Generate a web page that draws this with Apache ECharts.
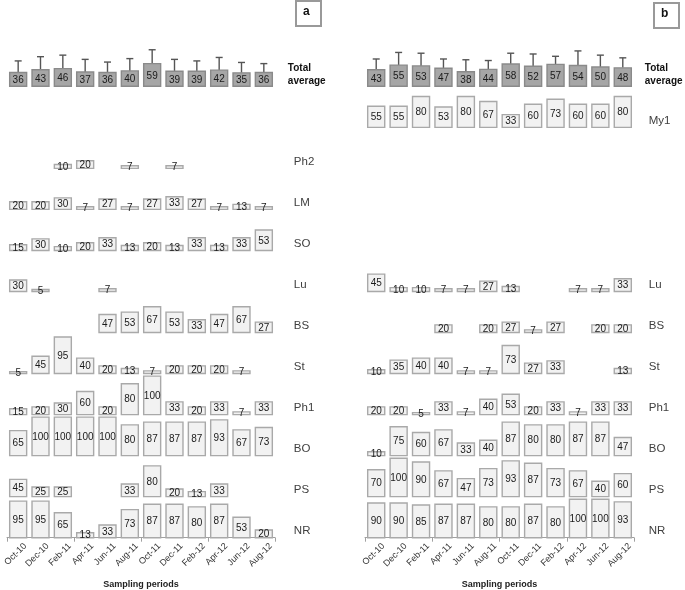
<!DOCTYPE html>
<html>
<head>
<meta charset="utf-8">
<script src="https://cdn.jsdelivr.net/npm/echarts@6/dist/echarts.min.js"></script>
<style>html,body{margin:0;padding:0;background:#fff}#c{width:685px;height:590px}</style>
</head>
<body>
<div id="c"></div>
<script>
// ---- data ----
const months = ['Oct-10','Dec-10','Feb-11','Apr-11','Jun-11','Aug-11','Oct-11','Dec-11','Feb-12','Apr-12','Jun-12','Aug-12'];
// row order from bottom to top
const rowNames = ['NR','PS','BO','Ph1','St','BS','Lu','SO','LM','Ph2','My1','Total average'];

// panel a
const aTotal    = [36,43,46,37,36,40,59,39,39,42,35,36];
const aTotalErr = [30,34,35,33,27,32,36,31,27,33,27,23];
const aPh2 = [null,null,10,20,null,7,null,7,null,null,null,null];
const aLM  = [20,20,30,7,27,7,27,33,27,7,13,7];
const aSO  = [15,30,10,20,33,13,20,13,33,13,33,53];
const aLu  = [30,5,null,null,7,null,null,null,null,null,null,null];
const aBS  = [null,null,null,null,47,53,67,53,33,47,67,27];
const aSt  = [5,45,95,40,20,13,7,20,20,20,7,null];
const aPh1 = [15,20,30,60,20,80,100,33,20,33,7,33];
const aBO  = [65,100,100,100,100,80,87,87,87,93,67,73];
const aPS  = [45,25,25,null,null,33,80,20,13,33,null,null];
const aNR  = [95,95,65,13,33,73,87,87,80,87,53,20];

// panel b
const bTotal    = [43,55,53,47,38,44,58,52,57,54,50,48];
const bTotalErr = [28,33,33,24,31,23,28,32,21,38,31,26];
const bMy1 = [55,55,80,53,80,67,33,60,73,60,60,80];
const bLu  = [45,10,10,7,7,27,13,null,null,7,7,33];
const bBS  = [null,null,null,20,null,20,27,7,27,null,20,20];
const bSt  = [10,35,40,40,7,7,73,27,33,null,null,13];
const bPh1 = [20,20,5,33,7,40,53,20,33,7,33,33];
const bBO  = [10,75,60,67,33,40,87,80,80,87,87,47];
const bPS  = [70,100,90,67,47,73,93,87,73,67,40,60];
const bNR  = [90,90,85,87,87,80,80,87,80,100,100,93];

const panelARows = {NR:aNR, PS:aPS, BO:aBO, Ph1:aPh1, St:aSt, BS:aBS, Lu:aLu, SO:aSO, LM:aLM, Ph2:aPh2};
const panelBRows = {NR:bNR, PS:bPS, BO:bBO, Ph1:bPh1, St:bSt, BS:bBS, Lu:bLu, My1:bMy1};

// ---- build ----
const ROW = 106.65; // value units between row baselines
const FONT = 'Liberation Sans, Arial, sans-serif';

function rowData(rows){
  const out = [];
  Object.keys(rows).forEach(name => {
    const r = rowNames.indexOf(name);
    rows[name].forEach((v,i) => { if (v !== null) out.push([i, r, v]); });
  });
  return out;
}
function totalData(vals, errs){
  return vals.map((v,i) => [i, 11, v, errs[i]]);
}

function renderBar(params, api){
  const c = api.value(0), r = api.value(1), v = api.value(2);
  const base = api.coord([c, r*ROW]);
  const top = api.coord([c, r*ROW + v]);
  const w = api.size([1,0])[0]*0.76;
  return {type:'group', children:[
    {type:'rect', shape:{x: base[0]-w/2, y: top[1], width: w, height: base[1]-top[1]},
     style:{fill:'#f2f2f2', stroke:'#a9a9a9', lineWidth:1.4}},
    {type:'text', style:{text:String(v), x: base[0], y:(base[1]+top[1])/2+0.5, align:'center', verticalAlign:'middle',
     font:'10px '+FONT, fill:'#1a1a1a'}}
  ]};
}
function renderTotal(params, api){
  const c = api.value(0), r = api.value(1), v = api.value(2), e = api.value(3);
  const base = api.coord([c, r*ROW]);
  const top = api.coord([c, r*ROW + v]);
  const etop = api.coord([c, r*ROW + v + e]);
  const w = api.size([1,0])[0]*0.76;
  return {type:'group', children:[
    {type:'line', shape:{x1: base[0], y1: top[1], x2: base[0], y2: etop[1]}, style:{stroke:'#555', lineWidth:1.4}},
    {type:'line', shape:{x1: base[0]-3.5, y1: etop[1], x2: base[0]+3.5, y2: etop[1]}, style:{stroke:'#555', lineWidth:1.4}},
    {type:'rect', shape:{x: base[0]-w/2, y: top[1], width: w, height: base[1]-top[1]},
     style:{fill:'#a6a6a6', stroke:'#8a8a8a', lineWidth:1.4}},
    {type:'text', style:{text:String(v), x: base[0], y:(base[1]+top[1])/2+1, align:'center', verticalAlign:'middle',
     font:'10px '+FONT, fill:'#1a1a1a'}}
  ]};
}
function makeLabelRenderer(offset, totOffset){
  return function(params, api){
    const r = api.value(0);
    const name = rowNames[r];
    const p = api.coord([11, r*ROW]);
    if (name === 'Total average') {
      return {type:'text', style:{text:'Total\naverage', x: p[0] + totOffset, y: p[1]-12, align:'left', verticalAlign:'middle',
        font:'bold 10px '+FONT, fill:'#111', lineHeight:13}};
    }
    return {type:'text', style:{text:name, x: p[0] + offset, y: p[1]-7, align:'left', verticalAlign:'middle',
      font:'11.5px '+FONT, fill:'#404040'}};
  };
}
// rotated month labels under the axis
function renderMonth(params, api){
  const i = api.value(0);
  const p = api.coord([i, 0]);
  return {type:'text', x: p[0] + 7, y: p[1] + 7, rotation: Math.PI/4,
    style:{text: months[i], x:0, y:0, align:'right', verticalAlign:'middle', font:'9px '+FONT, fill:'#333'}};
}

const rowsA = ['NR','PS','BO','Ph1','St','BS','Lu','SO','LM','Ph2','Total average'].map(n => [rowNames.indexOf(n)]);
const rowsB = ['NR','PS','BO','Ph1','St','BS','Lu','My1','Total average'].map(n => [rowNames.indexOf(n)]);
const monthIdx = months.map((m,i) => [i]);

function xAxis(idx){
  return {type:'category', gridIndex: idx, data: months, boundaryGap:true,
    axisLine:{lineStyle:{color:'#a0a0a0', width:1}},
    axisTick:{show:true, length:4, lineStyle:{color:'#a0a0a0'}},
    axisLabel:{show:false},
    name:'Sampling periods', nameLocation:'middle', nameGap:42,
    nameTextStyle:{fontWeight:'bold', fontSize:9, color:'#222', fontFamily:FONT}};
}
function yAxis(idx){
  return {type:'value', gridIndex: idx, min:0, max:1300, show:false, splitLine:{show:false}};
}

const chart = echarts.init(document.getElementById('c'), null, {renderer:'canvas'});
chart.setOption({
  animation:false,
  backgroundColor:'#fff',
  grid:[
    {left:7, width:268, top:37.5, bottom:52.3, containLabel:false, outerBoundsMode:'none'},
    {left:365, width:269, top:37.5, bottom:52.3, containLabel:false, outerBoundsMode:'none'}
  ],
  xAxis:[xAxis(0), xAxis(1)],
  yAxis:[yAxis(0), yAxis(1)],
  series:[
    {type:'custom', xAxisIndex:0, yAxisIndex:0, data: rowData(panelARows), renderItem: renderBar, clip:false},
    {type:'custom', xAxisIndex:0, yAxisIndex:0, data: totalData(aTotal, aTotalErr), renderItem: renderTotal, clip:false},
    {type:'custom', xAxisIndex:0, yAxisIndex:0, data: rowsA, renderItem: makeLabelRenderer(30, 24), clip:false},
    {type:'custom', xAxisIndex:0, yAxisIndex:0, data: monthIdx, renderItem: renderMonth, clip:false},
    {type:'custom', xAxisIndex:1, yAxisIndex:1, data: rowData(panelBRows), renderItem: renderBar, clip:false},
    {type:'custom', xAxisIndex:1, yAxisIndex:1, data: totalData(bTotal, bTotalErr), renderItem: renderTotal, clip:false},
    {type:'custom', xAxisIndex:1, yAxisIndex:1, data: rowsB, renderItem: makeLabelRenderer(26, 22), clip:false},
    {type:'custom', xAxisIndex:1, yAxisIndex:1, data: monthIdx, renderItem: renderMonth, clip:false}
  ],
  graphic:[
    {type:'rect', left:295, top:0, shape:{width:25, height:25}, style:{fill:'#fff', stroke:'#999', lineWidth:2}},
    {type:'text', left:303, top:6, style:{text:'a', font:'bold 12px '+FONT, fill:'#111'}},
    {type:'rect', left:653, top:2, shape:{width:25, height:25}, style:{fill:'#fff', stroke:'#999', lineWidth:2}},
    {type:'text', left:661, top:8, style:{text:'b', font:'bold 12px '+FONT, fill:'#111'}}
  ]
});
</script>
</body>
</html>
